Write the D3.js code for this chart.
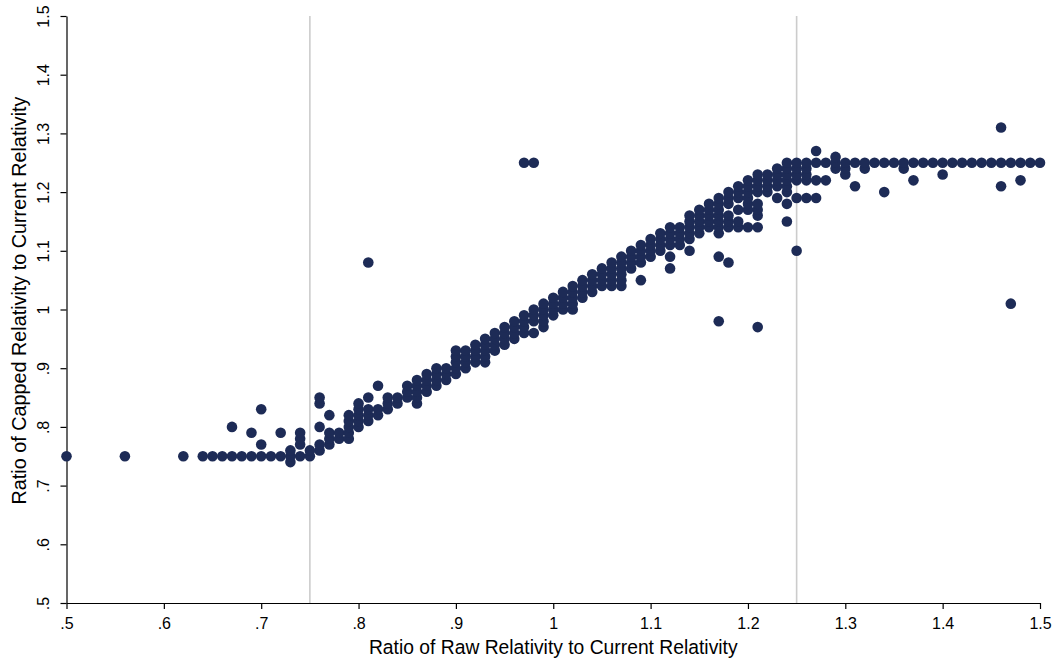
<!DOCTYPE html>
<html>
<head>
<meta charset="utf-8">
<script src="https://cdn.jsdelivr.net/npm/d3@7"></script>
<style>
  body { margin: 0; background: #fff; }
  svg { display: block; font-family: "Liberation Sans", Arial, sans-serif; }
</style>
</head>
<body>
<div class="container"></div>
<script>
// raw ratio columns (x) and the capped ratios seen in each column (y)
var rawRatio = [0.50,0.56,0.62,0.64,0.65,0.66,0.67,0.68,0.69,0.70,0.71,0.72,0.73,0.74,0.75,0.76,0.77,0.78,0.79,0.80,
  0.81,0.82,0.83,0.84,0.85,0.86,0.87,0.88,0.89,0.90,0.91,0.92,0.93,0.94,0.95,0.96,0.97,0.98,0.99,1.00,
  1.01,1.02,1.03,1.04,1.05,1.06,1.07,1.08,1.09,1.10,1.11,1.12,1.13,1.14,1.15,1.16,1.17,1.18,1.19,1.20,
  1.21,1.22,1.23,1.24,1.25,1.26,1.27,1.28,1.29,1.30,1.31,1.32,1.33,1.34,1.35,1.36,1.37,1.38,1.39,1.40,
  1.41,1.42,1.43,1.44,1.45,1.46,1.47,1.48,1.49,1.50];

var cappedRatio = [
  [.75],[.75],[.75],[.75],[.75],[.75],[.75,.80],[.75],[.75,.79],[.75,.77,.83],
  [.75],[.75,.79],[.74,.75,.76],[.75,.77,.78,.79],[.75,.76],[.76,.77,.80,.84,.85],[.77,.78,.79,.82],[.78,.79],
  [.78,.79,.80,.81,.82],[.80,.81,.82,.83,.84],
  [.81,.82,.83,.85,1.08],[.82,.83,.87],[.83,.84,.85],[.84,.85],[.85,.86,.87],[.84,.85,.86,.87,.88],
  [.86,.87,.88,.89],[.87,.88,.89,.90],[.88,.89,.90],[.89,.90,.91,.92,.93],
  [.90,.91,.92,.93],[.91,.92,.93,.94],[.91,.92,.93,.94,.95],[.93,.94,.95,.96],[.94,.95,.96,.97],
  [.95,.96,.97,.98],[.96,.97,.98,.99,1.25],[.96,.98,.99,1.00,1.25],[.97,.98,.99,1.00,1.01],[.99,1.00,1.01,1.02],
  [1.00,1.01,1.02,1.03],[1.00,1.01,1.02,1.03,1.04],[1.02,1.03,1.04,1.05],[1.03,1.04,1.05,1.06],[1.04,1.05,1.06,1.07],
  [1.04,1.05,1.06,1.07,1.08],[1.04,1.05,1.06,1.07,1.08,1.09],[1.07,1.08,1.09,1.10],[1.05,1.08,1.09,1.10,1.11],[1.09,1.10,1.11,1.12],
  [1.10,1.11,1.12,1.13],[1.07,1.09,1.11,1.12,1.13,1.14],[1.11,1.12,1.13,1.14],[1.10,1.12,1.13,1.14,1.15,1.16],[1.13,1.14,1.15,1.16,1.17],
  [1.14,1.15,1.16,1.17,1.18],[.98,1.09,1.13,1.14,1.15,1.16,1.17,1.18,1.19],[1.08,1.14,1.15,1.16,1.18,1.19,1.20],
  [1.14,1.15,1.17,1.19,1.20,1.21],[1.14,1.17,1.18,1.19,1.20,1.21,1.22],
  [.97,1.14,1.16,1.17,1.18,1.20,1.21,1.22,1.23],[1.20,1.21,1.22,1.23],[1.19,1.21,1.22,1.23,1.24],
  [1.15,1.18,1.20,1.21,1.22,1.23,1.24,1.25],[1.10,1.19,1.22,1.23,1.24,1.25],[1.19,1.22,1.23,1.24,1.25],
  [1.19,1.22,1.25,1.27],[1.22,1.25],[1.24,1.25,1.26],[1.23,1.24,1.25],
  [1.21,1.25],[1.24,1.25],[1.25],[1.20,1.25],[1.25],[1.24,1.25],[1.22,1.25],[1.25],[1.25],[1.23,1.25],
  [1.25],[1.25],[1.25],[1.25],[1.25],[1.21,1.25,1.31],[1.01,1.25],[1.22,1.25],[1.25],[1.25]
];

var tickValues = [0.5,0.6,0.7,0.8,0.9,1.0,1.1,1.2,1.3,1.4,1.5];
var tickLabels = [".5",".6",".7",".8",".9","1","1.1","1.2","1.3","1.4","1.5"];
var refLines = [0.75, 1.25];

var xTitle = "Ratio of Raw Relativity to Current Relativity";
var yTitle = "Ratio of Capped Relativity to Current Relativity";

var width = 1056;
var height = 662;
var margin = {top: 16, right: 16, bottom: 59, left: 66.5};

var points = [];
rawRatio.forEach(function (x, i) {
  cappedRatio[i].forEach(function (y) {
    points.push({x: x, y: y});
  });
});

var svg = d3.select(".container")
  .append("svg")
  .attr("width", width)
  .attr("height", height);

var x = d3.scaleLinear()
  .domain([0.5, 1.5])
  .range([margin.left, width - margin.right]);

var y = d3.scaleLinear()
  .domain([0.5, 1.5])
  .range([height - margin.bottom, margin.top]);

// reference lines at .75 and 1.25
svg.selectAll("line.ref")
  .data(refLines)
  .enter().append("line")
  .attr("class", "ref")
  .attr("x1", function (d) { return x(d); })
  .attr("x2", function (d) { return x(d); })
  .attr("y1", y(1.5))
  .attr("y2", y(0.5))
  .style("stroke", "#cccccc")
  .style("stroke-width", 1.6);

// x axis
var xAxis = svg.append("g")
  .attr("transform", "translate(0," + (height - margin.bottom) + ")")
  .call(d3.axisBottom(x)
    .tickValues(tickValues)
    .tickFormat(function (d, i) { return tickLabels[i]; })
    .tickSize(6)
    .tickSizeOuter(0));

xAxis.select(".domain").style("stroke", "#000").style("stroke-width", 1.2);
xAxis.selectAll(".tick line").style("stroke", "#000").style("stroke-width", 1.2);
xAxis.selectAll(".tick text")
  .attr("y", 12)
  .attr("dy", "0.9em")
  .style("font-size", "16px")
  .style("fill", "#000");

// y axis, labels turned like the y title
var yAxis = svg.append("g")
  .attr("transform", "translate(" + margin.left + ",0)")
  .call(d3.axisLeft(y)
    .tickValues(tickValues)
    .tickFormat(function (d, i) { return tickLabels[i]; })
    .tickSize(6)
    .tickSizeOuter(0));

yAxis.select(".domain").style("stroke", "#000").style("stroke-width", 1.2);
yAxis.selectAll(".tick line").style("stroke", "#000").style("stroke-width", 1.2);
yAxis.selectAll(".tick text")
  .attr("transform", "rotate(-90)")
  .attr("x", 0)
  .attr("y", -18)
  .attr("dy", 0)
  .attr("text-anchor", "middle")
  .style("font-size", "16px")
  .style("fill", "#000");

// titles
svg.append("text")
  .attr("x", x(1.0))
  .attr("y", 654)
  .attr("text-anchor", "middle")
  .style("font-size", "19.3px")
  .text(xTitle);

svg.append("text")
  .attr("transform", "translate(26," + (y(1.0) - 9) + ") rotate(-90)")
  .attr("text-anchor", "middle")
  .style("font-size", "19.8px")
  .text(yTitle);

// the dots
svg.selectAll("circle")
  .data(points)
  .enter().append("circle")
  .attr("cx", function (d) { return x(d.x); })
  .attr("cy", function (d) { return y(d.y); })
  .attr("r", 5.3)
  .style("fill", "#1d2b56");
</script>
</body>
</html>
